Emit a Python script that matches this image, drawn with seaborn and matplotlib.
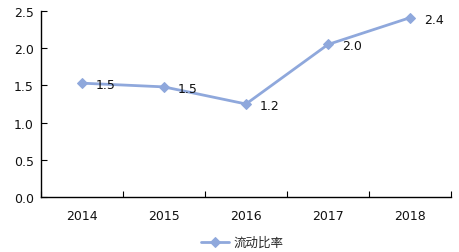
import matplotlib
matplotlib.use("Agg")
import matplotlib.pyplot as plt
import seaborn as sns
import pandas as pd
from matplotlib.ticker import FixedLocator

years = ["2014", "2015", "2016", "2017", "2018"]
ratio = [1.53, 1.48, 1.25, 2.05, 2.41]
labels = ["1.5", "1.5", "1.2", "2.0", "2.4"]
series_name = "流动比率"

sns.set_style("white")
plt.rcParams['font.family'] = ['DejaVu Sans', 'Noto Sans CJK SC']

df = pd.DataFrame({"year": years, "value": ratio})
df["x"] = range(len(years))

fig = plt.figure(figsize=(4.59, 2.53), dpi=100)
ax = fig.add_axes([0.0893, 0.2174, 0.8933, 0.7352])
color = "#8FA8DC"
sns.lineplot(data=df, x="x", y="value", ax=ax, color=color, marker="D",
             markersize=5, linewidth=2, markeredgecolor=color, label=series_name)

fs = 9
for xi, v, t in zip(df["x"], ratio, labels):
    ax.annotate(t, (xi, v), xytext=(10, -1), textcoords="offset points",
                ha="left", va="center", fontsize=fs, color="#111111")

ax.set_xlim(-0.5, len(years) - 0.5)
ax.set_ylim(0, 2.5)
ax.set_yticks([0, 0.5, 1.0, 1.5, 2.0, 2.5])
ax.set_yticklabels([f"{v:.1f}" for v in [0, 0.5, 1.0, 1.5, 2.0, 2.5]], fontsize=fs)
ax.set_xticks(range(len(years)))
ax.set_xticklabels(years, fontsize=fs)
ax.xaxis.set_minor_locator(FixedLocator([i + 0.5 for i in range(-1, len(years))]))
ax.tick_params(axis="x", which="major", length=0, pad=9, colors="#111111")
ax.tick_params(axis="x", which="minor", length=4, direction="in", width=0.8, color="black", bottom=True)
ax.tick_params(axis="y", length=4, direction="in", width=0.8, color="black", left=True, pad=5, labelcolor="#111111")
ax.set_xlabel("")
ax.set_ylabel("")
for s in ["top", "right"]:
    ax.spines[s].set_visible(False)
for s in ["left", "bottom"]:
    ax.spines[s].set_color("black")
    ax.spines[s].set_linewidth(1)

ax.legend(loc="center", bbox_to_anchor=(0.49, -0.245), frameon=False,
          handlelength=2.3, handletextpad=0.3,
          prop={'family': ['Noto Sans CJK SC', 'DejaVu Sans'], 'size': fs})

fig.savefig("out.png", dpi=100)
